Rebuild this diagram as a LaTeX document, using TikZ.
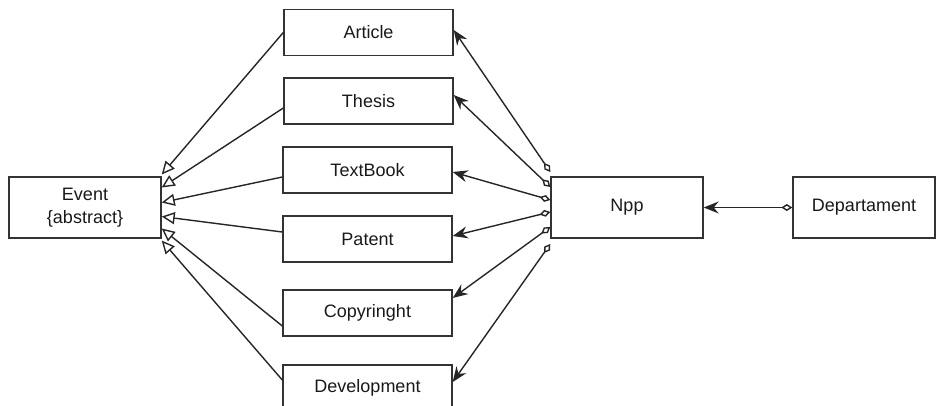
\documentclass[tikz,border=0pt]{standalone}
\usepackage{fontspec}
\setmainfont{Liberation Sans}
\usetikzlibrary{arrows.meta,calc}

\begin{document}
\begin{tikzpicture}[x=1pt,y=-1pt,
  cls/.style={draw=black!80,line width=1.4pt,minimum width=169pt,minimum height=46pt,inner sep=0pt,font=\fontsize{18}{23}\selectfont,text=black!90},
  bigcls/.style={cls,minimum width=152pt,minimum height=61pt,align=center},
  inherit/.style={line width=1.4pt,draw=black!85,-{Triangle[open,length=13pt,width=12pt]}},
  assoc/.style={line width=1.4pt,draw=black!85,{Diamond[open,length=11pt,width=7pt]}-{Stealth[length=15pt,width=12pt,inset=5pt]}}]
		\clip (0,0) rectangle (936,405);
		
		%classes
		\node[bigcls] (ev) at (85,207.5) {Event\\\{abstract\}};
		\node[cls] (art) at (368.5,32.5) {Article};
		\node[cls] (the) at (368.5,101) {Thesis};
		\node[cls] (tb) at (367.5,170) {TextBook};
		\node[cls] (pat) at (367.5,239) {Patent};
		\node[cls] (cop) at (367.5,313) {Copyringht};
		\node[cls] (dev) at (367.5,388) {Development};
		\node[bigcls] (npp) at (627,207.5) {Npp};
		\node[bigcls,minimum width=142pt] (dep) at (864,207.5) {Departament};
		
		%inheritance
		\draw[inherit] (art.west) -- ($(ev.east)+(0,-33)$);
		\draw[inherit] ($(the.west)+(0,7)$) -- ($(ev.east)+(0,-20)$);
		\draw[inherit] ($(tb.west)+(0,7)$) -- ($(ev.east)+(0,-5)$);
		\draw[inherit] ($(pat.west)+(0,-7)$) -- ($(ev.east)+(0,9)$);
		\draw[inherit] ($(cop.west)+(0,13)$) -- ($(ev.east)+(0,21)$);
		\draw[inherit] ($(dev.west)+(0,-8)$) -- ($(ev.east)+(0,33)$);
		
		%aggregation
		\draw[assoc] ($(npp.west)+(0,-35.5)$) -- ($(art.east)+(0,-2.5)$);
		\draw[assoc] ($(npp.west)+(0,-20.5)$) -- ($(the.east)+(0,-6)$);
		\draw[assoc] ($(npp.west)+(0,-7.5)$) -- ($(tb.east)+(0,2)$);
		\draw[assoc] ($(npp.west)+(0,4.5)$) -- ($(pat.east)+(0,-3)$);
		\draw[assoc] ($(npp.west)+(0,19.5)$) -- ($(cop.east)+(0,-15)$);
		\draw[assoc] ($(npp.west)+(0,36.5)$) -- ($(dev.east)+(0,-6)$);
		\draw[assoc] (dep.west) -- (npp.east);
		
\end{tikzpicture}
\end{document}
